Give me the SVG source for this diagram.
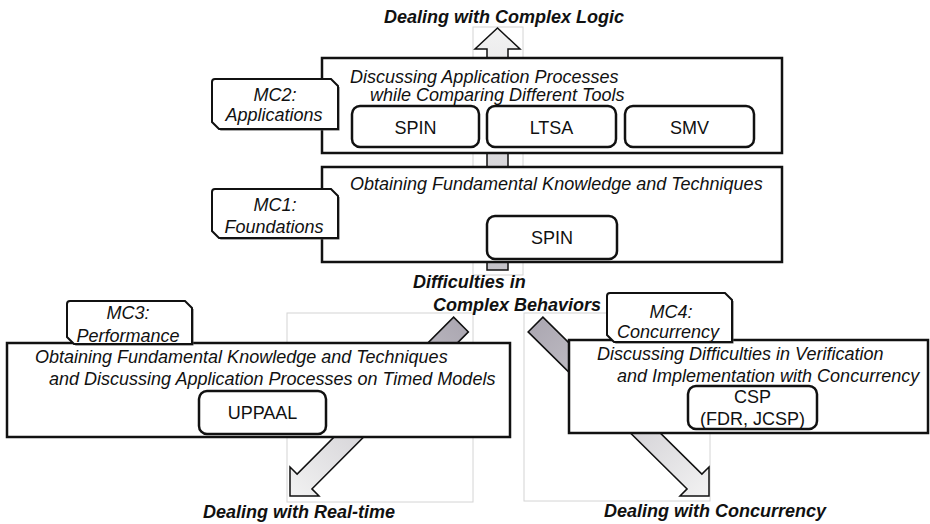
<svg xmlns="http://www.w3.org/2000/svg" width="930" height="524" viewBox="0 0 930 524">
<style>
  text { font-family: "Liberation Sans", Arial, sans-serif; font-size: 18px; fill: #111; }
  .it { font-style: italic; }
  .bi { font-style: italic; font-weight: bold; }
  .mid { text-anchor: middle; }
  .box { fill: #fff; stroke: #111; stroke-width: 2.5; }
  .tool { fill: #fff; stroke: #111; stroke-width: 2.5; }
  .tag { fill: #fff; stroke: #111; stroke-width: 2; }
  .tagsh { fill: #555; }
  .frame { fill: #fff; stroke: #d4d4d4; stroke-width: 1; }
  .arr { stroke: #111; stroke-width: 1.5; stroke-linejoin: miter; }
</style>
<defs>
  <linearGradient id="gUp" gradientUnits="userSpaceOnUse" x1="0" y1="270" x2="0" y2="28">
    <stop offset="0" stop-color="#c4c2c8"/>
    <stop offset="1" stop-color="#f2f2f2"/>
  </linearGradient>
  <linearGradient id="gL" gradientUnits="userSpaceOnUse" x1="461" y1="324" x2="290" y2="496">
    <stop offset="0" stop-color="#aca8b2"/>
    <stop offset="1" stop-color="#f2f2f2"/>
  </linearGradient>
  <linearGradient id="gR" gradientUnits="userSpaceOnUse" x1="535" y1="324" x2="709" y2="496">
    <stop offset="0" stop-color="#aca8b2"/>
    <stop offset="1" stop-color="#f2f2f2"/>
  </linearGradient>
</defs>

<g id="frames">
  <rect class="frame" x="473" y="27" width="50" height="248"/>
  <rect class="frame" x="287" y="313" width="186" height="189"/>
  <rect class="frame" x="524" y="313" width="186" height="188"/>
</g>

<g id="connectors">
  <polygon class="arr" fill="url(#gUp)" points="487,270 508,270 508,49 520,49 497.5,28 475,49 487,49"/>
  <polygon class="arr" fill="url(#gL)" points="453.6,317.1 468.4,331.9 311.9,488.9 319,496 290,496 290,467 297.1,474.1"/>
  <polygon class="arr" fill="url(#gR)" points="542.9,317.1 701.9,474.1 709,467 709,496 680,496 687.1,488.9 528.1,331.9"/>
</g>

<g id="label-top">
  <text class="bi mid" x="504" y="23">Dealing with Complex Logic</text>
</g>

<g id="mc2">
  <rect class="box" x="322" y="58" width="460" height="95"/>
  <text class="it" x="350" y="83">Discussing Application Processes</text>
  <text class="it" x="370" y="101">while Comparing Different Tools</text>
  <g id="mc2-spin">
    <rect class="tool" x="352" y="106" width="127" height="41" rx="8"/>
    <text class="mid" x="415.5" y="134">SPIN</text>
  </g>
  <g id="mc2-ltsa">
    <rect class="tool" x="487" y="106" width="129" height="41" rx="8"/>
    <text class="mid" x="551.5" y="134">LTSA</text>
  </g>
  <g id="mc2-smv">
    <rect class="tool" x="625" y="106" width="129" height="41" rx="8"/>
    <text class="mid" x="689.5" y="134">SMV</text>
  </g>
  <g id="mc2-tag">
    <path class="tagsh" d="M215,79 L331,79 L338,86 L338,129 L219,129 L212,122 L212,82 Q212,79 215,79 Z" transform="translate(1.5,1.5)"/>
    <path class="tag" d="M215,79 L331,79 L338,86 L338,129 L219,129 L212,122 L212,82 Q212,79 215,79 Z"/>
    <text class="it mid" x="275" y="101">MC2:</text>
    <text class="it mid" x="274" y="121">Applications</text>
  </g>
</g>

<g id="mc1">
  <rect class="box" x="322" y="167" width="460" height="95"/>
  <text class="it" x="350" y="190">Obtaining Fundamental Knowledge and Techniques</text>
  <g id="mc1-spin">
    <rect class="tool" x="487" y="216" width="130" height="43" rx="8"/>
    <text class="mid" x="552" y="244">SPIN</text>
  </g>
  <g id="mc1-tag">
    <path class="tagsh" d="M215,189 L331,189 L338,196 L338,238 L219,238 L212,231 L212,192 Q212,189 215,189 Z" transform="translate(1.5,1.5)"/>
    <path class="tag" d="M215,189 L331,189 L338,196 L338,238 L219,238 L212,231 L212,192 Q212,189 215,189 Z"/>
    <text class="it mid" x="275" y="211">MC1:</text>
    <text class="it mid" x="274" y="233">Foundations</text>
  </g>
</g>

<g id="label-mid">
  <text class="bi" x="413" y="288">Difficulties in</text>
  <text class="bi" x="433" y="311">Complex Behaviors</text>
</g>

<g id="mc3">
  <rect class="box" x="7" y="343" width="503" height="94"/>
  <g id="mc3-tag">
    <path class="tagsh" d="M70,301 L185,301 L192,308 L192,344 L74,344 L67,337 L67,304 Q67,301 70,301 Z" transform="translate(1.5,1.5)"/>
    <path class="tag" d="M70,301 L185,301 L192,308 L192,344 L74,344 L67,337 L67,304 Q67,301 70,301 Z"/>
    <text class="it mid" x="128" y="319">MC3:</text>
    <text class="it mid" x="128" y="342">Performance</text>
  </g>
  <text class="it" x="35" y="363">Obtaining Fundamental Knowledge and Techniques</text>
  <text class="it" x="49" y="385">and Discussing Application Processes on Timed Models</text>
  <g id="mc3-uppaal">
    <rect class="tool" x="199" y="391" width="127" height="43" rx="8"/>
    <text class="mid" x="262.5" y="419">UPPAAL</text>
  </g>
</g>

<g id="mc4">
  <rect class="box" x="569" y="340" width="359" height="93"/>
  <g id="mc4-tag">
    <path class="tagsh" d="M610,293 L725,293 L732,300 L732,342 L614,342 L607,335 L607,296 Q607,293 610,293 Z" transform="translate(1.5,1.5)"/>
    <path class="tag" d="M610,293 L725,293 L732,300 L732,342 L614,342 L607,335 L607,296 Q607,293 610,293 Z"/>
    <text class="it mid" x="671" y="318">MC4:</text>
    <text class="it mid" x="668" y="338">Concurrency</text>
  </g>
  <text class="it" x="597" y="360">Discussing Difficulties in Verification</text>
  <text class="it" x="617" y="382">and Implementation with Concurrency</text>
  <g id="mc4-csp">
    <rect class="tool" x="688" y="386" width="129" height="43" rx="8"/>
    <text class="mid" x="752.5" y="403">CSP</text>
    <text class="mid" x="752.5" y="425">(FDR, JCSP)</text>
  </g>
</g>

<g id="label-bottom">
  <text class="bi mid" x="299" y="518">Dealing with Real-time</text>
  <text class="bi mid" x="715" y="517">Dealing with Concurrency</text>
</g>
</svg>
